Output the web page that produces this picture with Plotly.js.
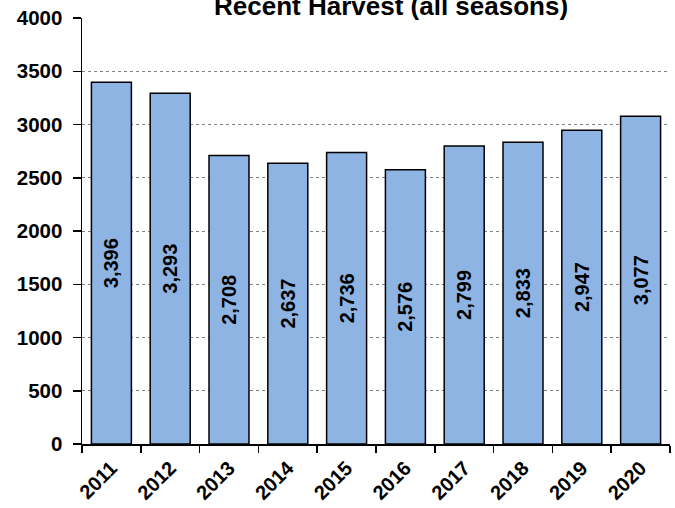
<!DOCTYPE html>
<html>
<head>
<meta charset="utf-8">
<script src="https://cdn.plot.ly/plotly-3.0.1.min.js"></script>
<style>html,body{margin:0;padding:0;background:#fff;}#chart{width:675px;height:508px;}</style>
</head>
<body>
<div id="chart"></div>
<script>
const years = ['2011','2012','2013','2014','2015','2016','2017','2018','2019','2020'];
const harvest = [3396, 3293, 2708, 2637, 2736, 2576, 2799, 2833, 2947, 3077];
const labels = harvest.map(v => v.toLocaleString('en-US'));
const chartTitle = 'Recent Harvest (all seasons)';

const FONT = 'Liberation Sans, Arial, sans-serif';

const trace = {
  type: 'bar',
  x: years,
  y: harvest,
  text: labels,
  textposition: 'inside',
  insidetextanchor: 'middle',
  textangle: -90,
  textfont: {family: FONT, size: 20, color: '#000', weight: 'bold'},
  marker: {color: '#8EB4E3', line: {color: '#000', width: 1.5}},
  hoverinfo: 'none',
  cliponaxis: false
};

const layout = {
  width: 675, height: 508,
  margin: {l: 82, r: 5, t: 18, b: 64},
  paper_bgcolor: '#fff', plot_bgcolor: '#fff',
  bargap: 0.32,
  showlegend: false,
  annotations: [{
    text: '<b>' + chartTitle + '</b>',
    font: {family: FONT, size: 26, color: '#000'},
    xref: 'paper', x: 0.526, xanchor: 'center',
    yref: 'paper', y: 0.99, yanchor: 'bottom',
    showarrow: false, borderpad: 0
  }],
  xaxis: {
    type: 'category',
    showline: true, linecolor: '#000', linewidth: 1.5,
    ticks: 'outside', tickson: 'boundaries', ticklen: 7, tickcolor: '#000', tickwidth: 1.5,
    tickangle: -45,
    ticklabelstandoff: 3,
    tickfont: {family: FONT, size: 20, color: '#000', weight: 'bold'},
    showgrid: false
  },
  yaxis: {
    range: [0, 4000],
    dtick: 500,
    tickformat: 'd',
    showline: true, linecolor: '#000', linewidth: 1.5,
    ticks: 'outside', ticklen: 8, tickcolor: '#000', tickwidth: 1.5,
    ticklabelstandoff: 6,
    tickfont: {family: FONT, size: 20.5, color: '#000', weight: 'bold'},
    showgrid: true, gridcolor: '#808080', gridwidth: 1, griddash: 'dot',
    zeroline: false
  }
};

Plotly.newPlot('chart', [trace], layout, {displayModeBar: false, staticPlot: true});
</script>
</body>
</html>
